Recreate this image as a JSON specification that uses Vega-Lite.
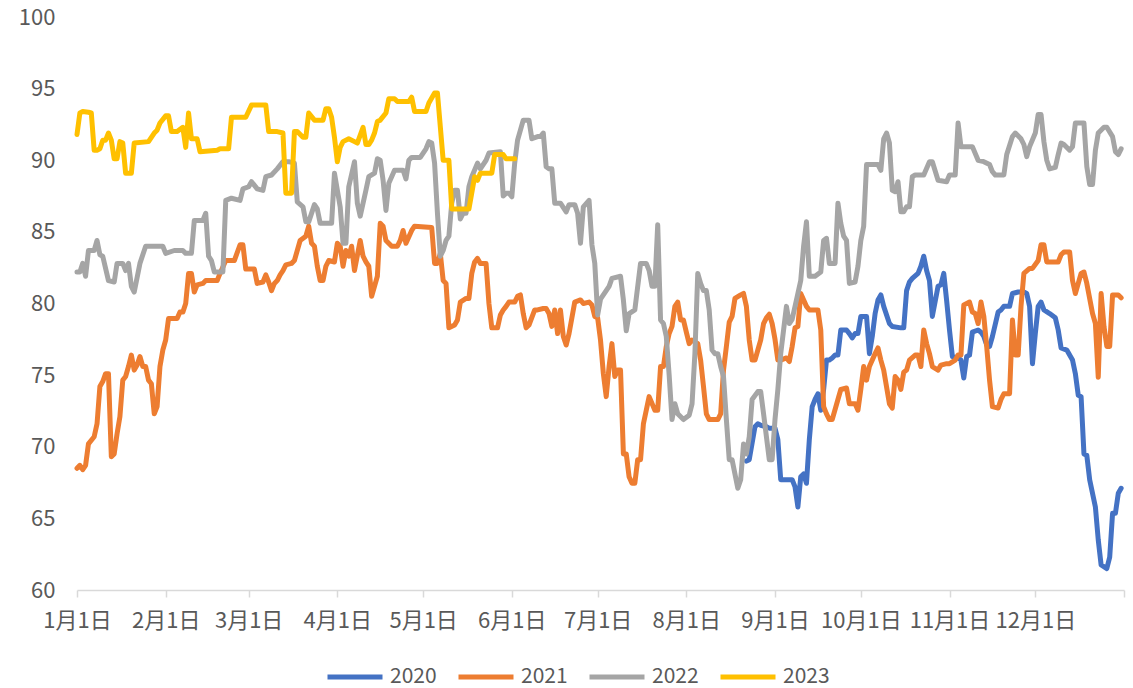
{
"$schema":"https://vega.github.io/schema/vega-lite/v6.json",
"width":1047,"height":573,
"autosize":{"type":"none"},
"padding":{"left":77,"top":17,"right":9,"bottom":98},
"background":"white",
"config":{"view":{"stroke":null},"font":"Noto Sans CJK SC"},
"data":{"values":[
{"date":"2020/08/22","series":"2020","value":69.0},{"date":"2020/08/23","series":"2020","value":69.1},{"date":"2020/08/25","series":"2020","value":71.4},{"date":"2020/08/26","series":"2020","value":71.6},{"date":"2020/08/27","series":"2020","value":71.5},{"date":"2020/08/29","series":"2020","value":71.4},{"date":"2020/08/30","series":"2020","value":71.3},{"date":"2020/09/01","series":"2020","value":71.3},{"date":"2020/09/02","series":"2020","value":70.5},{"date":"2020/09/03","series":"2020","value":67.7},{"date":"2020/09/04","series":"2020","value":67.7},{"date":"2020/09/07","series":"2020","value":67.7},{"date":"2020/09/08","series":"2020","value":67.2},{"date":"2020/09/09","series":"2020","value":65.8},{"date":"2020/09/10","series":"2020","value":67.9},{"date":"2020/09/11","series":"2020","value":68.1},{"date":"2020/09/12","series":"2020","value":67.45},{"date":"2020/09/13","series":"2020","value":70.5},{"date":"2020/09/14","series":"2020","value":72.8},{"date":"2020/09/15","series":"2020","value":73.3},{"date":"2020/09/16","series":"2020","value":73.7},{"date":"2020/09/17","series":"2020","value":72.55},{"date":"2020/09/18","series":"2020","value":74.0},{"date":"2020/09/19","series":"2020","value":76.05},{"date":"2020/09/20","series":"2020","value":76.05},{"date":"2020/09/21","series":"2020","value":76.2},{"date":"2020/09/22","series":"2020","value":76.4},{"date":"2020/09/23","series":"2020","value":76.4},{"date":"2020/09/24","series":"2020","value":78.15},{"date":"2020/09/26","series":"2020","value":78.15},{"date":"2020/09/27","series":"2020","value":77.9},{"date":"2020/09/28","series":"2020","value":77.6},{"date":"2020/09/29","series":"2020","value":77.9},{"date":"2020/09/30","series":"2020","value":77.9},{"date":"2020/10/01","series":"2020","value":79.1},{"date":"2020/10/03","series":"2020","value":79.1},{"date":"2020/10/04","series":"2020","value":76.5},{"date":"2020/10/05","series":"2020","value":77.7},{"date":"2020/10/06","series":"2020","value":79.3},{"date":"2020/10/07","series":"2020","value":80.25},{"date":"2020/10/08","series":"2020","value":80.6},{"date":"2020/10/09","series":"2020","value":79.8},{"date":"2020/10/11","series":"2020","value":78.6},{"date":"2020/10/12","series":"2020","value":78.4},{"date":"2020/10/15","series":"2020","value":78.3},{"date":"2020/10/16","series":"2020","value":78.3},{"date":"2020/10/17","series":"2020","value":80.9},{"date":"2020/10/18","series":"2020","value":81.5},{"date":"2020/10/19","series":"2020","value":81.75},{"date":"2020/10/21","series":"2020","value":82.1},{"date":"2020/10/22","series":"2020","value":82.6},{"date":"2020/10/23","series":"2020","value":83.3},{"date":"2020/10/24","series":"2020","value":82.3},{"date":"2020/10/25","series":"2020","value":81.6},{"date":"2020/10/26","series":"2020","value":79.1},{"date":"2020/10/28","series":"2020","value":81.2},{"date":"2020/10/29","series":"2020","value":81.3},{"date":"2020/10/30","series":"2020","value":82.1},{"date":"2020/10/31","series":"2020","value":80.2},{"date":"2020/11/01","series":"2020","value":78.15},{"date":"2020/11/02","series":"2020","value":76.3},{"date":"2020/11/04","series":"2020","value":76.2},{"date":"2020/11/05","series":"2020","value":76.05},{"date":"2020/11/06","series":"2020","value":74.8},{"date":"2020/11/07","series":"2020","value":76.3},{"date":"2020/11/08","series":"2020","value":76.4},{"date":"2020/11/09","series":"2020","value":78.0},{"date":"2020/11/11","series":"2020","value":78.15},{"date":"2020/11/12","series":"2020","value":78.0},{"date":"2020/11/13","series":"2020","value":77.7},{"date":"2020/11/14","series":"2020","value":77.1},{"date":"2020/11/15","series":"2020","value":77.0},{"date":"2020/11/16","series":"2020","value":77.7},{"date":"2020/11/18","series":"2020","value":79.4},{"date":"2020/11/19","series":"2020","value":79.55},{"date":"2020/11/20","series":"2020","value":79.8},{"date":"2020/11/22","series":"2020","value":79.8},{"date":"2020/11/23","series":"2020","value":80.7},{"date":"2020/11/25","series":"2020","value":80.8},{"date":"2020/11/27","series":"2020","value":80.8},{"date":"2020/11/28","series":"2020","value":80.7},{"date":"2020/11/29","series":"2020","value":79.8},{"date":"2020/11/30","series":"2020","value":75.8},{"date":"2020/12/01","series":"2020","value":77.9},{"date":"2020/12/02","series":"2020","value":79.8},{"date":"2020/12/03","series":"2020","value":80.1},{"date":"2020/12/04","series":"2020","value":79.55},{"date":"2020/12/06","series":"2020","value":79.3},{"date":"2020/12/08","series":"2020","value":79.0},{"date":"2020/12/09","series":"2020","value":78.15},{"date":"2020/12/10","series":"2020","value":76.9},{"date":"2020/12/12","series":"2020","value":76.75},{"date":"2020/12/14","series":"2020","value":76.05},{"date":"2020/12/15","series":"2020","value":75.1},{"date":"2020/12/16","series":"2020","value":73.6},{"date":"2020/12/17","series":"2020","value":73.5},{"date":"2020/12/18","series":"2020","value":69.5},{"date":"2020/12/19","series":"2020","value":69.4},{"date":"2020/12/20","series":"2020","value":67.7},{"date":"2020/12/22","series":"2020","value":65.8},{"date":"2020/12/23","series":"2020","value":63.5},{"date":"2020/12/24","series":"2020","value":61.75},{"date":"2020/12/26","series":"2020","value":61.5},{"date":"2020/12/27","series":"2020","value":62.3},{"date":"2020/12/28","series":"2020","value":65.35},{"date":"2020/12/29","series":"2020","value":65.35},{"date":"2020/12/30","series":"2020","value":66.75},{"date":"2020/12/31","series":"2020","value":67.1},
{"date":"2020/01/01","series":"2021","value":68.5},{"date":"2020/01/02","series":"2021","value":68.7},{"date":"2020/01/03","series":"2021","value":68.4},{"date":"2020/01/04","series":"2021","value":68.7},{"date":"2020/01/05","series":"2021","value":70.2},{"date":"2020/01/07","series":"2021","value":70.7},{"date":"2020/01/08","series":"2021","value":71.6},{"date":"2020/01/09","series":"2021","value":74.2},{"date":"2020/01/10","series":"2021","value":74.55},{"date":"2020/01/11","series":"2021","value":75.1},{"date":"2020/01/12","series":"2021","value":75.1},{"date":"2020/01/13","series":"2021","value":69.3},{"date":"2020/01/14","series":"2021","value":69.5},{"date":"2020/01/15","series":"2021","value":70.9},{"date":"2020/01/16","series":"2021","value":72.1},{"date":"2020/01/17","series":"2021","value":74.65},{"date":"2020/01/18","series":"2021","value":74.9},{"date":"2020/01/19","series":"2021","value":75.6},{"date":"2020/01/20","series":"2021","value":76.4},{"date":"2020/01/21","series":"2021","value":75.35},{"date":"2020/01/22","series":"2021","value":75.7},{"date":"2020/01/23","series":"2021","value":76.3},{"date":"2020/01/24","series":"2021","value":75.6},{"date":"2020/01/25","series":"2021","value":75.6},{"date":"2020/01/26","series":"2021","value":74.65},{"date":"2020/01/27","series":"2021","value":74.4},{"date":"2020/01/28","series":"2021","value":72.3},{"date":"2020/01/29","series":"2021","value":72.8},{"date":"2020/01/30","series":"2021","value":75.6},{"date":"2020/01/31","series":"2021","value":76.75},{"date":"2020/02/01","series":"2021","value":77.45},{"date":"2020/02/02","series":"2021","value":78.95},{"date":"2020/02/05","series":"2021","value":78.95},{"date":"2020/02/06","series":"2021","value":79.4},{"date":"2020/02/07","series":"2021","value":79.4},{"date":"2020/02/08","series":"2021","value":80.0},{"date":"2020/02/09","series":"2021","value":82.1},{"date":"2020/02/10","series":"2021","value":82.1},{"date":"2020/02/11","series":"2021","value":80.8},{"date":"2020/02/12","series":"2021","value":81.3},{"date":"2020/02/14","series":"2021","value":81.4},{"date":"2020/02/15","series":"2021","value":81.6},{"date":"2020/02/19","series":"2021","value":81.6},{"date":"2020/02/20","series":"2021","value":82.1},{"date":"2020/02/22","series":"2021","value":83.0},{"date":"2020/02/25","series":"2021","value":83.0},{"date":"2020/02/27","series":"2021","value":84.1},{"date":"2020/02/28","series":"2021","value":84.1},{"date":"2020/02/29","series":"2021","value":82.4},{"date":"2020/03/03","series":"2021","value":82.4},{"date":"2020/03/04","series":"2021","value":81.4},{"date":"2020/03/06","series":"2021","value":81.5},{"date":"2020/03/07","series":"2021","value":82.0},{"date":"2020/03/08","series":"2021","value":81.5},{"date":"2020/03/09","series":"2021","value":80.9},{"date":"2020/03/10","series":"2021","value":81.4},{"date":"2020/03/11","series":"2021","value":81.6},{"date":"2020/03/12","series":"2021","value":82.0},{"date":"2020/03/13","series":"2021","value":82.3},{"date":"2020/03/14","series":"2021","value":82.7},{"date":"2020/03/16","series":"2021","value":82.8},{"date":"2020/03/17","series":"2021","value":83.0},{"date":"2020/03/19","series":"2021","value":84.4},{"date":"2020/03/21","series":"2021","value":84.7},{"date":"2020/03/22","series":"2021","value":85.4},{"date":"2020/03/23","series":"2021","value":84.2},{"date":"2020/03/24","series":"2021","value":84.0},{"date":"2020/03/25","series":"2021","value":82.6},{"date":"2020/03/26","series":"2021","value":81.6},{"date":"2020/03/27","series":"2021","value":81.6},{"date":"2020/03/28","series":"2021","value":82.6},{"date":"2020/03/29","series":"2021","value":83.0},{"date":"2020/03/31","series":"2021","value":82.9},{"date":"2020/04/01","series":"2021","value":84.2},{"date":"2020/04/02","series":"2021","value":84.0},{"date":"2020/04/03","series":"2021","value":82.6},{"date":"2020/04/04","series":"2021","value":83.7},{"date":"2020/04/05","series":"2021","value":83.3},{"date":"2020/04/06","series":"2021","value":84.0},{"date":"2020/04/07","series":"2021","value":82.3},{"date":"2020/04/09","series":"2021","value":84.4},{"date":"2020/04/10","series":"2021","value":83.3},{"date":"2020/04/11","series":"2021","value":82.9},{"date":"2020/04/12","series":"2021","value":82.6},{"date":"2020/04/13","series":"2021","value":80.5},{"date":"2020/04/15","series":"2021","value":81.9},{"date":"2020/04/16","series":"2021","value":85.6},{"date":"2020/04/17","series":"2021","value":85.4},{"date":"2020/04/18","series":"2021","value":84.4},{"date":"2020/04/20","series":"2021","value":84.0},{"date":"2020/04/22","series":"2021","value":84.0},{"date":"2020/04/23","series":"2021","value":84.4},{"date":"2020/04/24","series":"2021","value":85.1},{"date":"2020/04/25","series":"2021","value":84.2},{"date":"2020/04/27","series":"2021","value":85.1},{"date":"2020/04/28","series":"2021","value":85.4},{"date":"2020/05/04","series":"2021","value":85.3},{"date":"2020/05/05","series":"2021","value":82.8},{"date":"2020/05/06","series":"2021","value":82.8},{"date":"2020/05/07","series":"2021","value":83.5},{"date":"2020/05/08","series":"2021","value":81.6},{"date":"2020/05/09","series":"2021","value":81.4},{"date":"2020/05/10","series":"2021","value":78.3},{"date":"2020/05/12","series":"2021","value":78.5},{"date":"2020/05/13","series":"2021","value":78.85},{"date":"2020/05/14","series":"2021","value":80.1},{"date":"2020/05/16","series":"2021","value":80.35},{"date":"2020/05/17","series":"2021","value":80.35},{"date":"2020/05/18","series":"2021","value":82.1},{"date":"2020/05/19","series":"2021","value":82.9},{"date":"2020/05/20","series":"2021","value":83.15},{"date":"2020/05/21","series":"2021","value":82.8},{"date":"2020/05/23","series":"2021","value":82.8},{"date":"2020/05/24","series":"2021","value":80.0},{"date":"2020/05/25","series":"2021","value":78.3},{"date":"2020/05/27","series":"2021","value":78.3},{"date":"2020/05/28","series":"2021","value":79.2},{"date":"2020/05/29","series":"2021","value":79.55},{"date":"2020/05/30","series":"2021","value":79.8},{"date":"2020/05/31","series":"2021","value":80.1},{"date":"2020/06/02","series":"2021","value":80.1},{"date":"2020/06/03","series":"2021","value":80.5},{"date":"2020/06/04","series":"2021","value":80.6},{"date":"2020/06/05","series":"2021","value":79.3},{"date":"2020/06/06","series":"2021","value":78.3},{"date":"2020/06/07","series":"2021","value":78.5},{"date":"2020/06/09","series":"2021","value":79.55},{"date":"2020/06/10","series":"2021","value":79.55},{"date":"2020/06/12","series":"2021","value":79.65},{"date":"2020/06/13","series":"2021","value":79.65},{"date":"2020/06/14","series":"2021","value":79.3},{"date":"2020/06/15","series":"2021","value":78.4},{"date":"2020/06/16","series":"2021","value":79.55},{"date":"2020/06/17","series":"2021","value":77.9},{"date":"2020/06/18","series":"2021","value":79.55},{"date":"2020/06/19","series":"2021","value":77.7},{"date":"2020/06/20","series":"2021","value":77.1},{"date":"2020/06/21","series":"2021","value":77.9},{"date":"2020/06/23","series":"2021","value":80.1},{"date":"2020/06/25","series":"2021","value":80.25},{"date":"2020/06/26","series":"2021","value":80.0},{"date":"2020/06/28","series":"2021","value":80.1},{"date":"2020/06/29","series":"2021","value":79.9},{"date":"2020/06/30","series":"2021","value":79.1},{"date":"2020/07/01","series":"2021","value":79.0},{"date":"2020/07/02","series":"2021","value":77.45},{"date":"2020/07/03","series":"2021","value":75.1},{"date":"2020/07/04","series":"2021","value":73.5},{"date":"2020/07/05","series":"2021","value":75.6},{"date":"2020/07/06","series":"2021","value":77.2},{"date":"2020/07/07","series":"2021","value":74.9},{"date":"2020/07/08","series":"2021","value":75.35},{"date":"2020/07/09","series":"2021","value":75.35},{"date":"2020/07/10","series":"2021","value":69.5},{"date":"2020/07/11","series":"2021","value":69.5},{"date":"2020/07/12","series":"2021","value":67.9},{"date":"2020/07/13","series":"2021","value":67.45},{"date":"2020/07/14","series":"2021","value":67.45},{"date":"2020/07/15","series":"2021","value":69.1},{"date":"2020/07/16","series":"2021","value":69.1},{"date":"2020/07/17","series":"2021","value":71.6},{"date":"2020/07/18","series":"2021","value":72.55},{"date":"2020/07/19","series":"2021","value":73.5},{"date":"2020/07/21","series":"2021","value":72.55},{"date":"2020/07/22","series":"2021","value":72.55},{"date":"2020/07/23","series":"2021","value":75.6},{"date":"2020/07/24","series":"2021","value":75.6},{"date":"2020/07/25","series":"2021","value":77.0},{"date":"2020/07/26","series":"2021","value":77.9},{"date":"2020/07/27","series":"2021","value":78.4},{"date":"2020/07/28","series":"2021","value":79.8},{"date":"2020/07/29","series":"2021","value":80.1},{"date":"2020/07/30","series":"2021","value":78.85},{"date":"2020/07/31","series":"2021","value":78.85},{"date":"2020/08/01","series":"2021","value":78.0},{"date":"2020/08/02","series":"2021","value":77.2},{"date":"2020/08/03","series":"2021","value":77.45},{"date":"2020/08/05","series":"2021","value":77.2},{"date":"2020/08/06","series":"2021","value":76.05},{"date":"2020/08/07","series":"2021","value":74.2},{"date":"2020/08/08","series":"2021","value":72.3},{"date":"2020/08/09","series":"2021","value":71.9},{"date":"2020/08/12","series":"2021","value":71.9},{"date":"2020/08/13","series":"2021","value":72.3},{"date":"2020/08/14","series":"2021","value":75.35},{"date":"2020/08/15","series":"2021","value":77.0},{"date":"2020/08/16","series":"2021","value":78.7},{"date":"2020/08/17","series":"2021","value":79.1},{"date":"2020/08/18","series":"2021","value":80.35},{"date":"2020/08/20","series":"2021","value":80.6},{"date":"2020/08/21","series":"2021","value":80.7},{"date":"2020/08/22","series":"2021","value":79.8},{"date":"2020/08/23","series":"2021","value":77.45},{"date":"2020/08/24","series":"2021","value":76.05},{"date":"2020/08/25","series":"2021","value":76.05},{"date":"2020/08/26","series":"2021","value":76.75},{"date":"2020/08/27","series":"2021","value":77.45},{"date":"2020/08/28","series":"2021","value":78.6},{"date":"2020/08/29","series":"2021","value":79.0},{"date":"2020/08/30","series":"2021","value":79.25},{"date":"2020/08/31","series":"2021","value":78.6},{"date":"2020/09/01","series":"2021","value":77.5},{"date":"2020/09/02","series":"2021","value":76.05},{"date":"2020/09/03","series":"2021","value":76.05},{"date":"2020/09/05","series":"2021","value":76.2},{"date":"2020/09/06","series":"2021","value":75.95},{"date":"2020/09/07","series":"2021","value":77.0},{"date":"2020/09/08","series":"2021","value":78.3},{"date":"2020/09/09","series":"2021","value":78.4},{"date":"2020/09/10","series":"2021","value":80.7},{"date":"2020/09/12","series":"2021","value":79.8},{"date":"2020/09/13","series":"2021","value":79.55},{"date":"2020/09/16","series":"2021","value":79.55},{"date":"2020/09/17","series":"2021","value":78.15},{"date":"2020/09/18","series":"2021","value":72.8},{"date":"2020/09/19","series":"2021","value":72.3},{"date":"2020/09/20","series":"2021","value":71.9},{"date":"2020/09/21","series":"2021","value":71.9},{"date":"2020/09/23","series":"2021","value":73.3},{"date":"2020/09/24","series":"2021","value":74.0},{"date":"2020/09/26","series":"2021","value":74.1},{"date":"2020/09/27","series":"2021","value":73.0},{"date":"2020/09/29","series":"2021","value":73.0},{"date":"2020/09/30","series":"2021","value":72.55},{"date":"2020/10/01","series":"2021","value":74.0},{"date":"2020/10/02","series":"2021","value":75.6},{"date":"2020/10/03","series":"2021","value":74.65},{"date":"2020/10/04","series":"2021","value":75.6},{"date":"2020/10/06","series":"2021","value":76.5},{"date":"2020/10/07","series":"2021","value":76.9},{"date":"2020/10/08","series":"2021","value":76.05},{"date":"2020/10/09","series":"2021","value":75.35},{"date":"2020/10/11","series":"2021","value":73.0},{"date":"2020/10/12","series":"2021","value":72.7},{"date":"2020/10/13","series":"2021","value":74.9},{"date":"2020/10/14","series":"2021","value":74.65},{"date":"2020/10/15","series":"2021","value":74.0},{"date":"2020/10/16","series":"2021","value":75.2},{"date":"2020/10/17","series":"2021","value":75.35},{"date":"2020/10/18","series":"2021","value":76.05},{"date":"2020/10/20","series":"2021","value":76.4},{"date":"2020/10/21","series":"2021","value":76.4},{"date":"2020/10/22","series":"2021","value":75.6},{"date":"2020/10/23","series":"2021","value":78.15},{"date":"2020/10/24","series":"2021","value":77.2},{"date":"2020/10/25","series":"2021","value":76.5},{"date":"2020/10/26","series":"2021","value":75.6},{"date":"2020/10/28","series":"2021","value":75.35},{"date":"2020/10/29","series":"2021","value":75.7},{"date":"2020/10/31","series":"2021","value":75.8},{"date":"2020/11/01","series":"2021","value":75.8},{"date":"2020/11/03","series":"2021","value":76.05},{"date":"2020/11/04","series":"2021","value":76.4},{"date":"2020/11/05","series":"2021","value":76.4},{"date":"2020/11/06","series":"2021","value":79.9},{"date":"2020/11/08","series":"2021","value":80.1},{"date":"2020/11/09","series":"2021","value":79.4},{"date":"2020/11/10","series":"2021","value":79.3},{"date":"2020/11/11","series":"2021","value":78.6},{"date":"2020/11/12","series":"2021","value":80.1},{"date":"2020/11/13","series":"2021","value":79.1},{"date":"2020/11/14","series":"2021","value":77.0},{"date":"2020/11/15","series":"2021","value":74.65},{"date":"2020/11/16","series":"2021","value":72.8},{"date":"2020/11/18","series":"2021","value":72.7},{"date":"2020/11/19","series":"2021","value":73.3},{"date":"2020/11/20","series":"2021","value":73.7},{"date":"2020/11/22","series":"2021","value":73.7},{"date":"2020/11/23","series":"2021","value":78.85},{"date":"2020/11/24","series":"2021","value":76.4},{"date":"2020/11/25","series":"2021","value":76.4},{"date":"2020/11/26","series":"2021","value":79.8},{"date":"2020/11/27","series":"2021","value":82.1},{"date":"2020/11/29","series":"2021","value":82.45},{"date":"2020/11/30","series":"2021","value":82.45},{"date":"2020/12/02","series":"2021","value":83.0},{"date":"2020/12/03","series":"2021","value":84.1},{"date":"2020/12/04","series":"2021","value":84.1},{"date":"2020/12/05","series":"2021","value":82.9},{"date":"2020/12/09","series":"2021","value":82.9},{"date":"2020/12/10","series":"2021","value":83.4},{"date":"2020/12/11","series":"2021","value":83.6},{"date":"2020/12/13","series":"2021","value":83.6},{"date":"2020/12/14","series":"2021","value":81.6},{"date":"2020/12/15","series":"2021","value":80.7},{"date":"2020/12/17","series":"2021","value":82.1},{"date":"2020/12/18","series":"2021","value":82.2},{"date":"2020/12/19","series":"2021","value":81.4},{"date":"2020/12/21","series":"2021","value":79.3},{"date":"2020/12/22","series":"2021","value":78.6},{"date":"2020/12/23","series":"2021","value":74.85},{"date":"2020/12/24","series":"2021","value":80.7},{"date":"2020/12/25","series":"2021","value":78.4},{"date":"2020/12/26","series":"2021","value":77.0},{"date":"2020/12/27","series":"2021","value":77.0},{"date":"2020/12/28","series":"2021","value":80.6},{"date":"2020/12/30","series":"2021","value":80.6},{"date":"2020/12/31","series":"2021","value":80.4},
{"date":"2020/01/01","series":"2022","value":82.2},{"date":"2020/01/02","series":"2022","value":82.2},{"date":"2020/01/03","series":"2022","value":82.8},{"date":"2020/01/04","series":"2022","value":81.9},{"date":"2020/01/05","series":"2022","value":83.7},{"date":"2020/01/07","series":"2022","value":83.7},{"date":"2020/01/08","series":"2022","value":84.4},{"date":"2020/01/09","series":"2022","value":83.4},{"date":"2020/01/10","series":"2022","value":83.3},{"date":"2020/01/12","series":"2022","value":81.6},{"date":"2020/01/14","series":"2022","value":81.5},{"date":"2020/01/15","series":"2022","value":82.8},{"date":"2020/01/17","series":"2022","value":82.8},{"date":"2020/01/18","series":"2022","value":82.3},{"date":"2020/01/19","series":"2022","value":82.8},{"date":"2020/01/20","series":"2022","value":81.2},{"date":"2020/01/21","series":"2022","value":80.8},{"date":"2020/01/22","series":"2022","value":81.8},{"date":"2020/01/23","series":"2022","value":82.8},{"date":"2020/01/25","series":"2022","value":84.0},{"date":"2020/01/31","series":"2022","value":84.0},{"date":"2020/02/01","series":"2022","value":83.5},{"date":"2020/02/04","series":"2022","value":83.7},{"date":"2020/02/07","series":"2022","value":83.7},{"date":"2020/02/08","series":"2022","value":83.5},{"date":"2020/02/10","series":"2022","value":83.5},{"date":"2020/02/11","series":"2022","value":85.8},{"date":"2020/02/14","series":"2022","value":85.8},{"date":"2020/02/15","series":"2022","value":86.3},{"date":"2020/02/16","series":"2022","value":83.3},{"date":"2020/02/17","series":"2022","value":83.0},{"date":"2020/02/18","series":"2022","value":82.2},{"date":"2020/02/21","series":"2022","value":82.2},{"date":"2020/02/22","series":"2022","value":87.2},{"date":"2020/02/24","series":"2022","value":87.35},{"date":"2020/02/27","series":"2022","value":87.2},{"date":"2020/02/28","series":"2022","value":88.0},{"date":"2020/03/01","series":"2022","value":88.15},{"date":"2020/03/02","series":"2022","value":88.5},{"date":"2020/03/04","series":"2022","value":88.0},{"date":"2020/03/06","series":"2022","value":87.9},{"date":"2020/03/07","series":"2022","value":88.85},{"date":"2020/03/09","series":"2022","value":88.97},{"date":"2020/03/11","series":"2022","value":89.4},{"date":"2020/03/13","series":"2022","value":89.9},{"date":"2020/03/15","series":"2022","value":89.9},{"date":"2020/03/17","series":"2022","value":89.8},{"date":"2020/03/18","series":"2022","value":87.1},{"date":"2020/03/20","series":"2022","value":86.75},{"date":"2020/03/21","series":"2022","value":85.7},{"date":"2020/03/22","series":"2022","value":85.7},{"date":"2020/03/24","series":"2022","value":86.9},{"date":"2020/03/25","series":"2022","value":86.6},{"date":"2020/03/26","series":"2022","value":85.6},{"date":"2020/03/30","series":"2022","value":85.6},{"date":"2020/03/31","series":"2022","value":89.1},{"date":"2020/04/02","series":"2022","value":86.75},{"date":"2020/04/03","series":"2022","value":84.2},{"date":"2020/04/04","series":"2022","value":84.2},{"date":"2020/04/05","series":"2022","value":88.15},{"date":"2020/04/07","series":"2022","value":89.9},{"date":"2020/04/08","series":"2022","value":87.0},{"date":"2020/04/09","series":"2022","value":86.1},{"date":"2020/04/11","series":"2022","value":87.9},{"date":"2020/04/12","series":"2022","value":88.85},{"date":"2020/04/14","series":"2022","value":89.1},{"date":"2020/04/15","series":"2022","value":90.1},{"date":"2020/04/16","series":"2022","value":90.0},{"date":"2020/04/17","series":"2022","value":88.6},{"date":"2020/04/18","series":"2022","value":86.5},{"date":"2020/04/19","series":"2022","value":88.4},{"date":"2020/04/21","series":"2022","value":89.3},{"date":"2020/04/24","series":"2022","value":89.3},{"date":"2020/04/25","series":"2022","value":88.7},{"date":"2020/04/26","series":"2022","value":90.0},{"date":"2020/04/27","series":"2022","value":90.2},{"date":"2020/04/30","series":"2022","value":90.2},{"date":"2020/05/02","series":"2022","value":90.8},{"date":"2020/05/03","series":"2022","value":91.3},{"date":"2020/05/04","series":"2022","value":91.2},{"date":"2020/05/05","series":"2022","value":89.8},{"date":"2020/05/06","series":"2022","value":86.3},{"date":"2020/05/07","series":"2022","value":83.3},{"date":"2020/05/08","series":"2022","value":83.7},{"date":"2020/05/09","series":"2022","value":84.4},{"date":"2020/05/10","series":"2022","value":84.7},{"date":"2020/05/11","series":"2022","value":87.0},{"date":"2020/05/12","series":"2022","value":87.9},{"date":"2020/05/13","series":"2022","value":87.9},{"date":"2020/05/14","series":"2022","value":85.9},{"date":"2020/05/15","series":"2022","value":86.3},{"date":"2020/05/16","series":"2022","value":86.3},{"date":"2020/05/17","series":"2022","value":88.15},{"date":"2020/05/18","series":"2022","value":88.85},{"date":"2020/05/20","series":"2022","value":89.8},{"date":"2020/05/21","series":"2022","value":89.4},{"date":"2020/05/23","series":"2022","value":90.0},{"date":"2020/05/24","series":"2022","value":90.5},{"date":"2020/05/28","series":"2022","value":90.6},{"date":"2020/05/29","series":"2022","value":87.5},{"date":"2020/05/30","series":"2022","value":87.7},{"date":"2020/05/31","series":"2022","value":87.7},{"date":"2020/06/01","series":"2022","value":87.45},{"date":"2020/06/02","series":"2022","value":89.8},{"date":"2020/06/03","series":"2022","value":91.4},{"date":"2020/06/05","series":"2022","value":92.8},{"date":"2020/06/07","series":"2022","value":92.8},{"date":"2020/06/08","series":"2022","value":91.5},{"date":"2020/06/10","series":"2022","value":91.65},{"date":"2020/06/11","series":"2022","value":91.65},{"date":"2020/06/12","series":"2022","value":91.9},{"date":"2020/06/13","series":"2022","value":89.55},{"date":"2020/06/14","series":"2022","value":89.4},{"date":"2020/06/15","series":"2022","value":89.4},{"date":"2020/06/16","series":"2022","value":87.0},{"date":"2020/06/18","series":"2022","value":87.0},{"date":"2020/06/20","series":"2022","value":86.4},{"date":"2020/06/21","series":"2022","value":86.9},{"date":"2020/06/23","series":"2022","value":86.9},{"date":"2020/06/24","series":"2022","value":86.3},{"date":"2020/06/25","series":"2022","value":84.2},{"date":"2020/06/26","series":"2022","value":86.75},{"date":"2020/06/28","series":"2022","value":87.2},{"date":"2020/06/29","series":"2022","value":84.1},{"date":"2020/06/30","series":"2022","value":82.8},{"date":"2020/07/01","series":"2022","value":79.2},{"date":"2020/07/02","series":"2022","value":80.3},{"date":"2020/07/04","series":"2022","value":80.9},{"date":"2020/07/05","series":"2022","value":81.2},{"date":"2020/07/06","series":"2022","value":81.75},{"date":"2020/07/09","series":"2022","value":81.9},{"date":"2020/07/10","series":"2022","value":80.25},{"date":"2020/07/11","series":"2022","value":78.1},{"date":"2020/07/12","series":"2022","value":79.3},{"date":"2020/07/14","series":"2022","value":79.55},{"date":"2020/07/16","series":"2022","value":82.8},{"date":"2020/07/18","series":"2022","value":82.8},{"date":"2020/07/19","series":"2022","value":82.3},{"date":"2020/07/20","series":"2022","value":81.2},{"date":"2020/07/21","series":"2022","value":81.2},{"date":"2020/07/22","series":"2022","value":85.5},{"date":"2020/07/23","series":"2022","value":78.85},{"date":"2020/07/24","series":"2022","value":78.6},{"date":"2020/07/25","series":"2022","value":77.7},{"date":"2020/07/26","series":"2022","value":75.0},{"date":"2020/07/27","series":"2022","value":71.9},{"date":"2020/07/28","series":"2022","value":73.0},{"date":"2020/07/29","series":"2022","value":72.3},{"date":"2020/07/31","series":"2022","value":71.9},{"date":"2020/08/02","series":"2022","value":72.2},{"date":"2020/08/03","series":"2022","value":73.0},{"date":"2020/08/04","series":"2022","value":76.5},{"date":"2020/08/05","series":"2022","value":82.1},{"date":"2020/08/06","series":"2022","value":81.4},{"date":"2020/08/07","series":"2022","value":80.9},{"date":"2020/08/08","series":"2022","value":80.9},{"date":"2020/08/09","series":"2022","value":79.55},{"date":"2020/08/10","series":"2022","value":76.75},{"date":"2020/08/11","series":"2022","value":76.5},{"date":"2020/08/12","series":"2022","value":76.5},{"date":"2020/08/13","series":"2022","value":75.6},{"date":"2020/08/14","series":"2022","value":74.9},{"date":"2020/08/15","series":"2022","value":71.9},{"date":"2020/08/16","series":"2022","value":69.1},{"date":"2020/08/17","series":"2022","value":69.1},{"date":"2020/08/19","series":"2022","value":67.1},{"date":"2020/08/20","series":"2022","value":67.7},{"date":"2020/08/21","series":"2022","value":70.2},{"date":"2020/08/22","series":"2022","value":69.5},{"date":"2020/08/23","series":"2022","value":70.7},{"date":"2020/08/24","series":"2022","value":73.3},{"date":"2020/08/26","series":"2022","value":73.85},{"date":"2020/08/27","series":"2022","value":73.85},{"date":"2020/08/28","series":"2022","value":72.3},{"date":"2020/08/30","series":"2022","value":69.1},{"date":"2020/08/31","series":"2022","value":69.1},{"date":"2020/09/01","series":"2022","value":71.9},{"date":"2020/09/02","series":"2022","value":74.0},{"date":"2020/09/03","series":"2022","value":76.5},{"date":"2020/09/04","series":"2022","value":78.15},{"date":"2020/09/05","series":"2022","value":79.8},{"date":"2020/09/06","series":"2022","value":78.6},{"date":"2020/09/07","series":"2022","value":78.9},{"date":"2020/09/09","series":"2022","value":80.7},{"date":"2020/09/10","series":"2022","value":81.6},{"date":"2020/09/11","series":"2022","value":84.0},{"date":"2020/09/12","series":"2022","value":85.7},{"date":"2020/09/13","series":"2022","value":81.9},{"date":"2020/09/15","series":"2022","value":81.9},{"date":"2020/09/17","series":"2022","value":82.2},{"date":"2020/09/18","series":"2022","value":84.4},{"date":"2020/09/19","series":"2022","value":84.55},{"date":"2020/09/20","series":"2022","value":82.8},{"date":"2020/09/22","series":"2022","value":82.8},{"date":"2020/09/23","series":"2022","value":87.0},{"date":"2020/09/24","series":"2022","value":85.6},{"date":"2020/09/25","series":"2022","value":84.7},{"date":"2020/09/26","series":"2022","value":84.4},{"date":"2020/09/27","series":"2022","value":81.4},{"date":"2020/09/29","series":"2022","value":81.5},{"date":"2020/09/30","series":"2022","value":82.6},{"date":"2020/10/01","series":"2022","value":84.4},{"date":"2020/10/02","series":"2022","value":85.4},{"date":"2020/10/03","series":"2022","value":89.7},{"date":"2020/10/07","series":"2022","value":89.7},{"date":"2020/10/08","series":"2022","value":89.3},{"date":"2020/10/09","series":"2022","value":91.5},{"date":"2020/10/10","series":"2022","value":91.9},{"date":"2020/10/11","series":"2022","value":91.2},{"date":"2020/10/12","series":"2022","value":87.9},{"date":"2020/10/13","series":"2022","value":87.8},{"date":"2020/10/14","series":"2022","value":88.5},{"date":"2020/10/15","series":"2022","value":86.4},{"date":"2020/10/16","series":"2022","value":86.4},{"date":"2020/10/17","series":"2022","value":86.75},{"date":"2020/10/18","series":"2022","value":86.75},{"date":"2020/10/19","series":"2022","value":88.85},{"date":"2020/10/20","series":"2022","value":88.97},{"date":"2020/10/23","series":"2022","value":88.97},{"date":"2020/10/25","series":"2022","value":89.9},{"date":"2020/10/26","series":"2022","value":89.9},{"date":"2020/10/28","series":"2022","value":88.6},{"date":"2020/10/31","series":"2022","value":88.5},{"date":"2020/11/01","series":"2022","value":88.97},{"date":"2020/11/03","series":"2022","value":88.97},{"date":"2020/11/04","series":"2022","value":92.6},{"date":"2020/11/05","series":"2022","value":90.95},{"date":"2020/11/09","series":"2022","value":90.95},{"date":"2020/11/11","series":"2022","value":90.0},{"date":"2020/11/13","series":"2022","value":89.9},{"date":"2020/11/15","series":"2022","value":89.7},{"date":"2020/11/16","series":"2022","value":89.2},{"date":"2020/11/17","series":"2022","value":88.97},{"date":"2020/11/20","series":"2022","value":88.97},{"date":"2020/11/21","series":"2022","value":90.4},{"date":"2020/11/23","series":"2022","value":91.65},{"date":"2020/11/24","series":"2022","value":91.9},{"date":"2020/11/26","series":"2022","value":91.5},{"date":"2020/11/27","series":"2022","value":91.1},{"date":"2020/11/28","series":"2022","value":90.25},{"date":"2020/11/29","series":"2022","value":90.95},{"date":"2020/12/01","series":"2022","value":91.9},{"date":"2020/12/02","series":"2022","value":93.2},{"date":"2020/12/03","series":"2022","value":93.2},{"date":"2020/12/04","series":"2022","value":91.3},{"date":"2020/12/05","series":"2022","value":90.0},{"date":"2020/12/06","series":"2022","value":89.4},{"date":"2020/12/08","series":"2022","value":89.5},{"date":"2020/12/09","series":"2022","value":90.4},{"date":"2020/12/10","series":"2022","value":91.2},{"date":"2020/12/11","series":"2022","value":91.1},{"date":"2020/12/13","series":"2022","value":90.7},{"date":"2020/12/14","series":"2022","value":90.95},{"date":"2020/12/15","series":"2022","value":92.6},{"date":"2020/12/18","series":"2022","value":92.6},{"date":"2020/12/19","series":"2022","value":89.55},{"date":"2020/12/20","series":"2022","value":88.3},{"date":"2020/12/21","series":"2022","value":88.3},{"date":"2020/12/22","series":"2022","value":90.7},{"date":"2020/12/23","series":"2022","value":91.9},{"date":"2020/12/25","series":"2022","value":92.3},{"date":"2020/12/26","series":"2022","value":92.3},{"date":"2020/12/28","series":"2022","value":91.65},{"date":"2020/12/29","series":"2022","value":90.6},{"date":"2020/12/30","series":"2022","value":90.4},{"date":"2020/12/31","series":"2022","value":90.8},
{"date":"2020/01/01","series":"2023","value":91.8},{"date":"2020/01/02","series":"2023","value":93.3},{"date":"2020/01/03","series":"2023","value":93.4},{"date":"2020/01/05","series":"2023","value":93.35},{"date":"2020/01/06","series":"2023","value":93.3},{"date":"2020/01/07","series":"2023","value":90.7},{"date":"2020/01/08","series":"2023","value":90.7},{"date":"2020/01/09","series":"2023","value":90.8},{"date":"2020/01/10","series":"2023","value":91.4},{"date":"2020/01/11","series":"2023","value":91.4},{"date":"2020/01/12","series":"2023","value":91.9},{"date":"2020/01/13","series":"2023","value":91.4},{"date":"2020/01/14","series":"2023","value":90.1},{"date":"2020/01/15","series":"2023","value":90.1},{"date":"2020/01/16","series":"2023","value":91.3},{"date":"2020/01/17","series":"2023","value":91.2},{"date":"2020/01/18","series":"2023","value":89.1},{"date":"2020/01/20","series":"2023","value":89.1},{"date":"2020/01/21","series":"2023","value":91.2},{"date":"2020/01/26","series":"2023","value":91.3},{"date":"2020/01/28","series":"2023","value":91.9},{"date":"2020/01/29","series":"2023","value":92.1},{"date":"2020/01/30","series":"2023","value":92.6},{"date":"2020/02/01","series":"2023","value":93.1},{"date":"2020/02/02","series":"2023","value":93.1},{"date":"2020/02/03","series":"2023","value":92.0},{"date":"2020/02/05","series":"2023","value":92.0},{"date":"2020/02/07","series":"2023","value":92.3},{"date":"2020/02/08","series":"2023","value":90.9},{"date":"2020/02/09","series":"2023","value":93.3},{"date":"2020/02/10","series":"2023","value":91.5},{"date":"2020/02/12","series":"2023","value":91.5},{"date":"2020/02/13","series":"2023","value":90.6},{"date":"2020/02/19","series":"2023","value":90.7},{"date":"2020/02/20","series":"2023","value":90.8},{"date":"2020/02/23","series":"2023","value":90.8},{"date":"2020/02/24","series":"2023","value":93.0},{"date":"2020/02/29","series":"2023","value":93.0},{"date":"2020/03/02","series":"2023","value":93.85},{"date":"2020/03/07","series":"2023","value":93.85},{"date":"2020/03/08","series":"2023","value":92.0},{"date":"2020/03/11","series":"2023","value":92.0},{"date":"2020/03/13","series":"2023","value":91.9},{"date":"2020/03/14","series":"2023","value":87.7},{"date":"2020/03/16","series":"2023","value":87.7},{"date":"2020/03/17","series":"2023","value":92.0},{"date":"2020/03/18","series":"2023","value":92.0},{"date":"2020/03/20","series":"2023","value":91.6},{"date":"2020/03/21","series":"2023","value":91.6},{"date":"2020/03/22","series":"2023","value":93.3},{"date":"2020/03/24","series":"2023","value":92.8},{"date":"2020/03/27","series":"2023","value":92.8},{"date":"2020/03/28","series":"2023","value":93.6},{"date":"2020/03/29","series":"2023","value":93.6},{"date":"2020/03/30","series":"2023","value":93.0},{"date":"2020/03/31","series":"2023","value":91.6},{"date":"2020/04/01","series":"2023","value":89.9},{"date":"2020/04/02","series":"2023","value":90.9},{"date":"2020/04/03","series":"2023","value":91.3},{"date":"2020/04/05","series":"2023","value":91.5},{"date":"2020/04/07","series":"2023","value":91.3},{"date":"2020/04/08","series":"2023","value":91.2},{"date":"2020/04/10","series":"2023","value":92.3},{"date":"2020/04/11","series":"2023","value":91.1},{"date":"2020/04/12","series":"2023","value":91.1},{"date":"2020/04/13","series":"2023","value":91.4},{"date":"2020/04/14","series":"2023","value":91.9},{"date":"2020/04/15","series":"2023","value":92.7},{"date":"2020/04/16","series":"2023","value":92.8},{"date":"2020/04/18","series":"2023","value":93.3},{"date":"2020/04/19","series":"2023","value":94.3},{"date":"2020/04/21","series":"2023","value":94.3},{"date":"2020/04/22","series":"2023","value":94.1},{"date":"2020/04/26","series":"2023","value":94.1},{"date":"2020/04/27","series":"2023","value":94.4},{"date":"2020/04/28","series":"2023","value":93.4},{"date":"2020/05/02","series":"2023","value":93.4},{"date":"2020/05/03","series":"2023","value":94.0},{"date":"2020/05/05","series":"2023","value":94.7},{"date":"2020/05/06","series":"2023","value":94.7},{"date":"2020/05/08","series":"2023","value":90.0},{"date":"2020/05/10","series":"2023","value":90.0},{"date":"2020/05/11","series":"2023","value":86.6},{"date":"2020/05/17","series":"2023","value":86.6},{"date":"2020/05/19","series":"2023","value":88.85},{"date":"2020/05/20","series":"2023","value":88.6},{"date":"2020/05/21","series":"2023","value":89.1},{"date":"2020/05/25","series":"2023","value":89.1},{"date":"2020/05/26","series":"2023","value":90.4},{"date":"2020/05/29","series":"2023","value":90.4},{"date":"2020/05/30","series":"2023","value":90.1},{"date":"2020/06/02","series":"2023","value":90.1}
]},
"mark":{"type":"line","strokeWidth":5,"strokeJoin":"round","strokeCap":"round"},
"encoding":{
"x":{"field":"date","type":"temporal",
"scale":{"domain":[{"year":2020,"month":1,"date":1},{"year":2021,"month":1,"date":1}]},
"axis":{"title":null,"grid":false,
"values":[{"year":2020,"month":1,"date":1},{"year":2020,"month":2,"date":1},{"year":2020,"month":3,"date":1},{"year":2020,"month":4,"date":1},{"year":2020,"month":5,"date":1},{"year":2020,"month":6,"date":1},{"year":2020,"month":7,"date":1},{"year":2020,"month":8,"date":1},{"year":2020,"month":9,"date":1},{"year":2020,"month":10,"date":1},{"year":2020,"month":11,"date":1},{"year":2020,"month":12,"date":1},{"year":2021,"month":1,"date":1}],
"format":"%-m月%-d日","labelExpr":"year(datum.value) > 2020 ? '' : datum.label",
"domainColor":"#d9d9d9","domainWidth":1.5,"tickColor":"#d9d9d9","tickWidth":1.5,"tickSize":7,
"labelPadding":13,"labelFontSize":22,"labelColor":"#595959","labelFlush":false,"labelOverlap":false,"labelFont":"Noto Sans CJK SC"}},
"y":{"field":"value","type":"quantitative",
"scale":{"domain":[60,100],"nice":false,"zero":false},
"axis":{"title":null,"values":[60,65,70,75,80,85,90,95,100],"domain":false,"ticks":false,"grid":false,"labelPadding":22,"labelFontSize":22,"labelColor":"#595959","labelFont":"Noto Sans CJK SC"}},
"color":{"field":"series","type":"nominal",
"scale":{"domain":["2020","2021","2022","2023"],"range":["#4472C4","#ED7D31","#A5A5A5","#FFC000"]},
"legend":{"title":null,"orient":"none","legendX":248,"legendY":630,"direction":"horizontal","symbolType":"stroke","symbolStrokeWidth":5,"symbolSize":3025,"labelFontSize":21,"labelColor":"#595959","columnPadding":11,"labelOffset":5,"labelFont":"Noto Sans CJK SC"}}
}
}
